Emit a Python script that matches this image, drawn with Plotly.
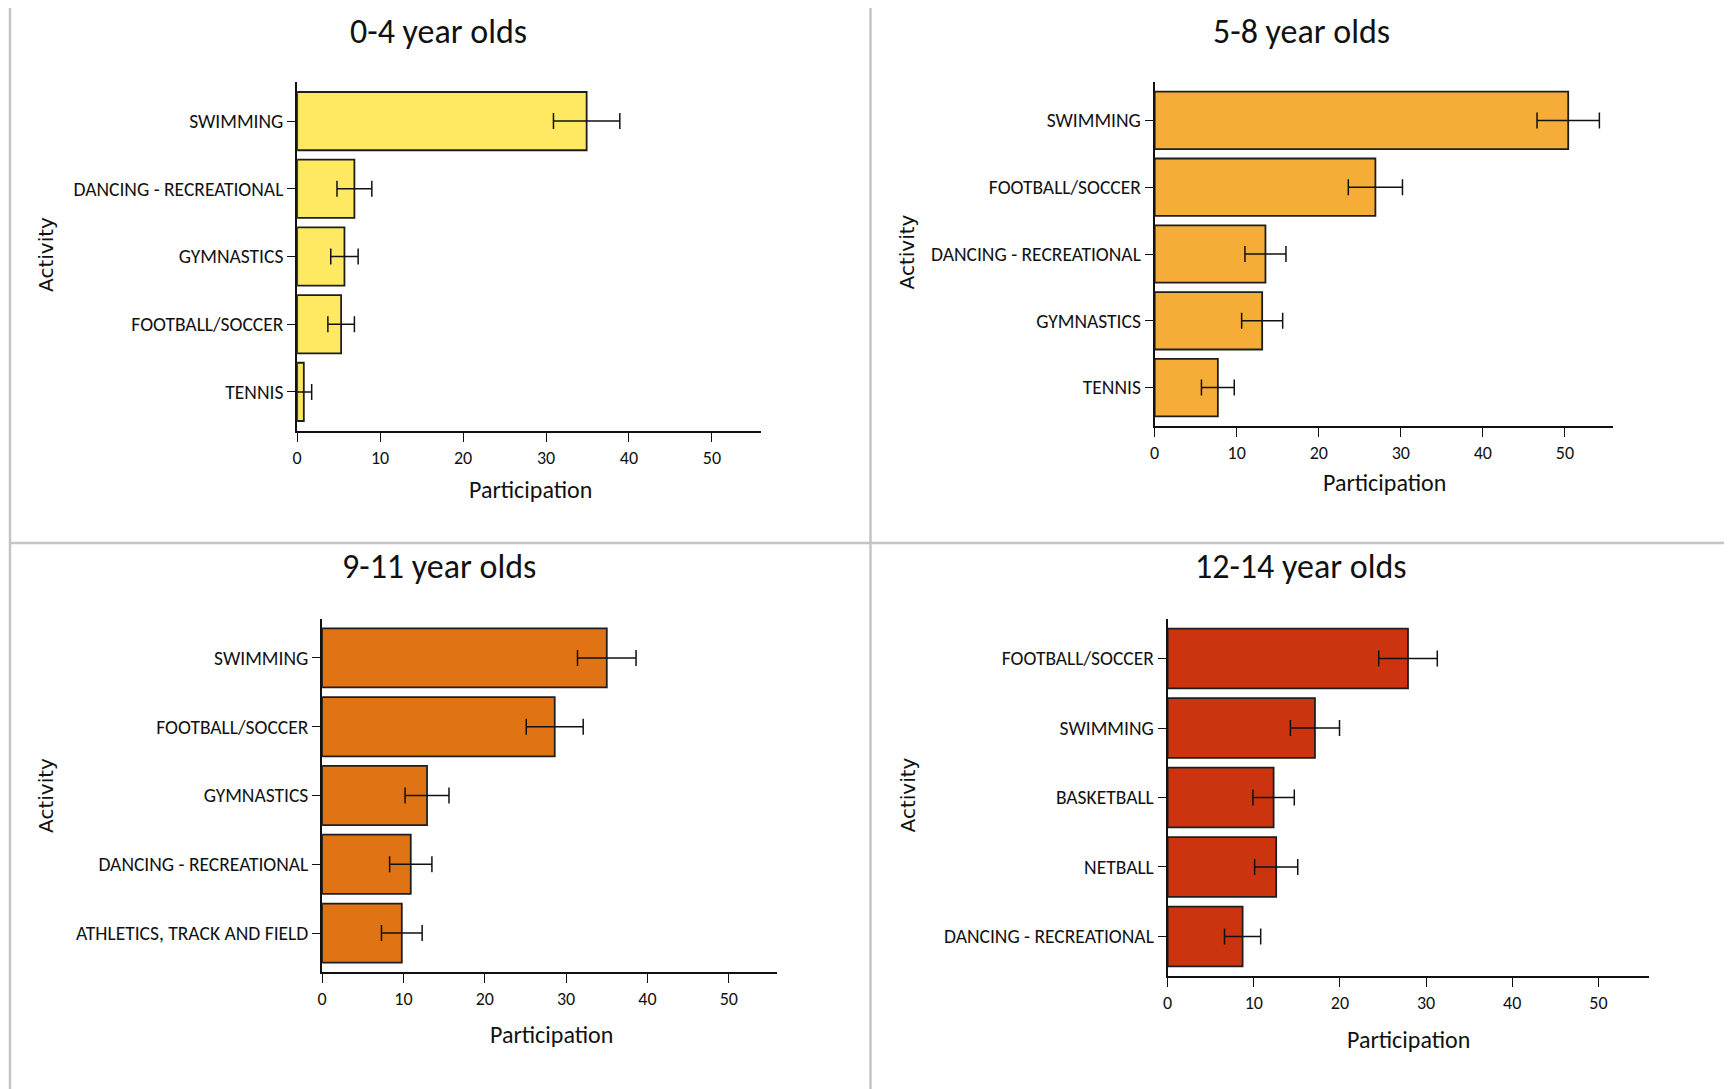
import plotly.graph_objects as go

# page offset of the plot div inside the browser page
OX, OY = 11, 8
W, H = 1732 - OX, 1089 - OY

# ---------------- data ----------------
titles = ["0-4 year olds", "5-8 year olds", "9-11 year olds", "12-14 year olds"]

acts_0_4 = ["SWIMMING", "DANCING - RECREATIONAL", "GYMNASTICS", "FOOTBALL/SOCCER", "TENNIS"]
vals_0_4 = [34.9, 6.9, 5.7, 5.3, 0.8]
err_0_4 = [4.0, 2.1, 1.65, 1.6, 0.95]

acts_5_8 = ["SWIMMING", "FOOTBALL/SOCCER", "DANCING - RECREATIONAL", "GYMNASTICS", "TENNIS"]
vals_5_8 = [50.4, 26.9, 13.5, 13.1, 7.7]
err_5_8 = [3.8, 3.3, 2.5, 2.5, 2.0]

acts_9_11 = ["SWIMMING", "FOOTBALL/SOCCER", "GYMNASTICS", "DANCING - RECREATIONAL", "ATHLETICS, TRACK AND FIELD"]
vals_9_11 = [35.0, 28.6, 12.9, 10.9, 9.8]
err_9_11 = [3.6, 3.5, 2.7, 2.6, 2.5]

acts_12_14 = ["FOOTBALL/SOCCER", "SWIMMING", "BASKETBALL", "NETBALL", "DANCING - RECREATIONAL"]
vals_12_14 = [27.9, 17.1, 12.3, 12.6, 8.7]
err_12_14 = [3.4, 2.85, 2.4, 2.5, 2.1]

x_ticks = [0, 10, 20, 30, 40, 50]

colors = ["#FFE963", "#F6AD37", "#E07415", "#CC340F"]

# ---------------- layout geometry (page pixels) ----------------
panels = [
    dict(acts=acts_0_4, vals=vals_0_4, err=err_0_4, box=(296, 761, 82, 431), pad=0.578,
         title=(438, 31), act=(44, 254), part=(530, 489)),
    dict(acts=acts_5_8, vals=vals_5_8, err=err_5_8, box=(1156, 1616, 82, 426), pad=0.575,
         title=(1303, 31), act=(908, 252), part=(1386, 483)),
    dict(acts=acts_9_11, vals=vals_9_11, err=err_9_11, box=(321, 777, 619, 972), pad=0.565,
         title=(438, 566), act=(44, 795), part=(551, 1034)),
    dict(acts=acts_12_14, vals=vals_12_14, err=err_12_14, box=(1169, 1652, 619, 976), pad=0.57,
         title=(1303, 566), act=(909, 795), part=(1411, 1039)),
]

def px(x):
    return (x - OX) / W

def py(y):
    return 1 - (y - OY) / H

LABEL_FONT = "Carlito, Calibri, Lato, sans-serif"

fig = go.Figure()
layout = dict(
    width=W, height=H,
    margin=dict(l=0, r=0, t=0, b=0),
    paper_bgcolor="white", plot_bgcolor="white",
    showlegend=False,
    bargap=0.14,
)
annotations = []

for i, p in enumerate(panels):
    n = i + 1
    xa = "x" if n == 1 else f"x{n}"
    ya = "y" if n == 1 else f"y{n}"
    fig.add_trace(go.Bar(
        x=p["vals"], y=p["acts"], orientation="h",
        marker=dict(color=colors[i], line=dict(color="#1e1e1e", width=1.8)),
        error_x=dict(type="data", array=p["err"], visible=True, color="#111111",
                     thickness=1.5, width=8),
        xaxis=xa, yaxis=ya, hoverinfo="x+y",
    ))
    x0, x1, yt, yb = p["box"]
    xkey = "xaxis" if n == 1 else f"xaxis{n}"
    ykey = "yaxis" if n == 1 else f"yaxis{n}"
    layout[xkey] = dict(
        domain=[px(x0), px(x1)], anchor=ya, range=[0, 55.9],
        tickvals=x_ticks, showgrid=False, zeroline=False,
        showline=True, linecolor="#111111", linewidth=2.2,
        ticks="outside", ticklen=9, tickwidth=1.4, tickcolor="#111111",
        tickfont=dict(family=LABEL_FONT, size=18, color="#111111"),
        fixedrange=True,
    )
    layout[ykey] = dict(
        domain=[py(yb), py(yt)], anchor=xa,
        type="category", categoryorder="array", categoryarray=list(reversed(p["acts"])),
        range=[-p["pad"], len(p["acts"]) - 1 + p["pad"]],
        showgrid=False, zeroline=False,
        showline=True, linecolor="#111111", linewidth=1.8,
        ticks="outside", ticklen=8, tickwidth=1.4, tickcolor="#111111",
        tickfont=dict(family=LABEL_FONT, size=19.5, color="#111111"),
        fixedrange=True,
    )
    annotations.append(dict(text=titles[i], x=px(p["title"][0]), y=py(p["title"][1]),
                            xref="paper", yref="paper", xanchor="center", yanchor="middle",
                            showarrow=False,
                            font=dict(family=LABEL_FONT, size=34, color="#111111")))
    annotations.append(dict(text="Activity", x=px(p["act"][0]), y=py(p["act"][1]),
                            xref="paper", yref="paper", xanchor="center", yanchor="middle",
                            showarrow=False, textangle=-90,
                            font=dict(family="DejaVu Sans", size=20, color="#111111")))
    annotations.append(dict(text="Participation", x=px(p["part"][0]), y=py(p["part"][1]),
                            xref="paper", yref="paper", xanchor="center", yanchor="middle",
                            showarrow=False,
                            font=dict(family=LABEL_FONT, size=24, color="#111111")))

# panel borders
border = "#c4c4c4"
def line(xa0, ya0, xa1, ya1):
    return dict(type="line", xref="paper", yref="paper",
                x0=px(xa0), y0=py(ya0), x1=px(xa1), y1=py(ya1),
                line=dict(color=border, width=2.5))

shapes = [
    line(8, 6, 8, 1089),
    line(8, 6, 1732, 6),
    line(871, 6, 871, 1089),
    line(8, 543, 1732, 543),
]

layout["annotations"] = annotations
layout["shapes"] = shapes
fig.update_layout(**layout)

fig.write_html("out.html")
